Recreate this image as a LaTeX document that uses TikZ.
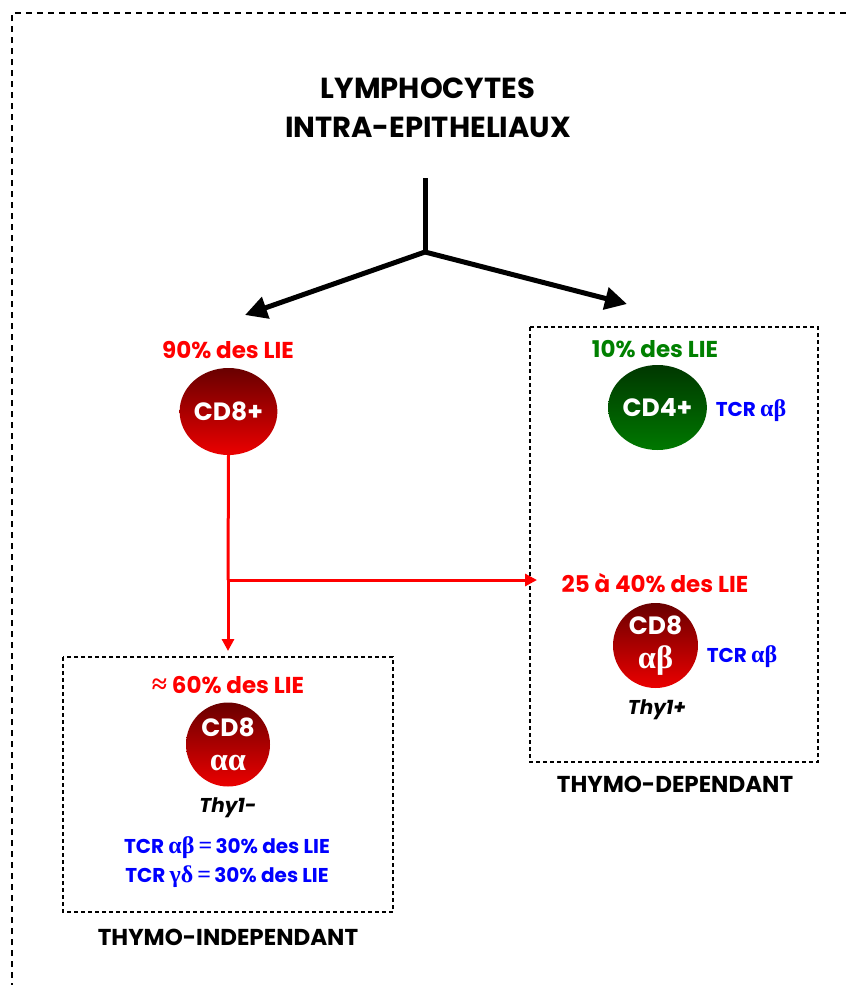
\documentclass[tikz,border=0pt]{standalone}
\usepackage{fontspec}
\setmainfont{Poppins}
\newfontfamily\gkfont{Liberation Serif}[Scale=1.2]
\usetikzlibrary{arrows.meta,shapes.geometric}
\definecolor{lieRed}{RGB}{255,0,0}
\definecolor{lieGreen}{RGB}{0,128,0}
\definecolor{tcrBlue}{RGB}{0,0,255}
\definecolor{cellRedTop}{RGB}{105,0,0}
\definecolor{cellRedBot}{RGB}{235,0,0}
\definecolor{cellGreenTop}{RGB}{0,55,0}
\definecolor{cellGreenBot}{RGB}{0,120,0}
\newcommand\gk[1]{{\gkfont #1}}
\newcommand\gkbig[1]{{\gkfont\fontsize{27}{30}\selectfont #1}}
\begin{document}
\begin{tikzpicture}[x=1pt,y=-1pt,
  title/.style={font=\bfseries\fontsize{29}{39}\selectfont, align=center, inner sep=0pt},
  pct/.style={font=\bfseries\fontsize{23}{26}\selectfont, inner sep=0pt},
  tcr/.style={font=\bfseries\fontsize{20}{29}\selectfont, text=tcrBlue, inner sep=0pt, align=center},
  thy/.style={font=\bfseries\itshape\fontsize{20}{24}\selectfont, inner sep=0pt},
  group/.style={font=\bfseries\fontsize{23}{26}\selectfont, inner sep=0pt},
  redcell/.style={ellipse, inner sep=0pt, text=white, align=center,
    top color=cellRedTop, bottom color=cellRedBot,
    font=\bfseries\fontsize{25}{34}\selectfont},
  greencell/.style={ellipse, inner sep=0pt, text=white,
    top color=cellGreenTop, bottom color=cellGreenBot,
    font=\bfseries\fontsize{25}{30}\selectfont},
  frame/.style={draw, line width=1.4pt, dash pattern=on 6pt off 5pt},
  panel/.style={draw, line width=1.1pt, dash pattern=on 4pt off 3pt},
  bigarrow/.style={line width=5pt, -{Triangle[length=22pt,width=22pt]}},
  redarrow/.style={draw=lieRed, line width=3pt, -{Triangle[length=12pt,width=12pt]}}
]
\useasboundingbox (0,0) rectangle (846,985);

% outer frame (only top and left edges fall inside the page)
\draw[frame] (12,1000) -- (12,13) -- (860,13);

% panels
\draw[panel] (530,327) rectangle (818,762);
\draw[panel] (63,657) rectangle (393,912);

% title
\node[title] (titre) at (428,108) {LYMPHOCYTES\\INTRA-EPITHELIAUX};

% branching arrows
\coordinate (stem) at (425,178);
\coordinate (fork) at (425,252);
\coordinate (tipL) at (245,315);
\coordinate (tipR) at (627,304);
\draw[line width=5pt] (stem) -- (fork);
\draw[bigarrow] (fork) -- (tipL);
\draw[bigarrow] (fork) -- (tipR);

% CD8+ branch
\node[pct, text=lieRed] (p90) at (228,350) {90\% des LIE};
\node[redcell, minimum width=97pt, minimum height=87pt] (cd8) at (228.5,411.5) {CD8+};

% CD4+ branch
\node[pct, text=lieGreen] (p10) at (655,349) {10\% des LIE};
\node[greencell, minimum width=95pt, minimum height=85pt] (cd4) at (657.5,407.5) {CD4+};
\node[tcr] (tcr4) at (751,411) {TCR \gk{αβ}};

% CD8 alpha-beta
\node[pct, text=lieRed] (p25) at (655,583) {25 à 40\% des LIE};
\node[redcell, minimum width=85pt, minimum height=85pt] (cd8ab) at (655.5,645.5) {CD8\\\gkbig{αβ}};
\node[tcr] (tcr8) at (742,657) {TCR \gk{αβ}};
\node[thy] (thyp) at (657,710) {Thy1+};
\node[group] (dep) at (675,784) {THYMO-DEPENDANT};

% CD8 alpha-alpha
\node[pct, text=lieRed] (p60) at (228,685) {\gk{≈} 60\% des LIE};
\node[redcell, minimum width=84pt, minimum height=84pt] (cd8aa) at (228,744.5) {CD8\\\gkbig{αα}};
\node[thy] (thym) at (228,808) {Thy1-};
\node[tcr] (tcraa) at (227,862) {TCR \gk{αβ\,=}\,30\% des LIE\\TCR \gk{γδ\,=}\,30\% des LIE};
\node[group] (indep) at (228,937) {THYMO-INDEPENDANT};

% red connectors
\coordinate (split) at (228,580);
\draw[draw=lieRed, line width=3pt] (cd8.south) -- (split);
\draw[redarrow] (split) -- (cd8aa.north |- 0,651);
\draw[redarrow] (split) -- (537,580);
\end{tikzpicture}
\end{document}
